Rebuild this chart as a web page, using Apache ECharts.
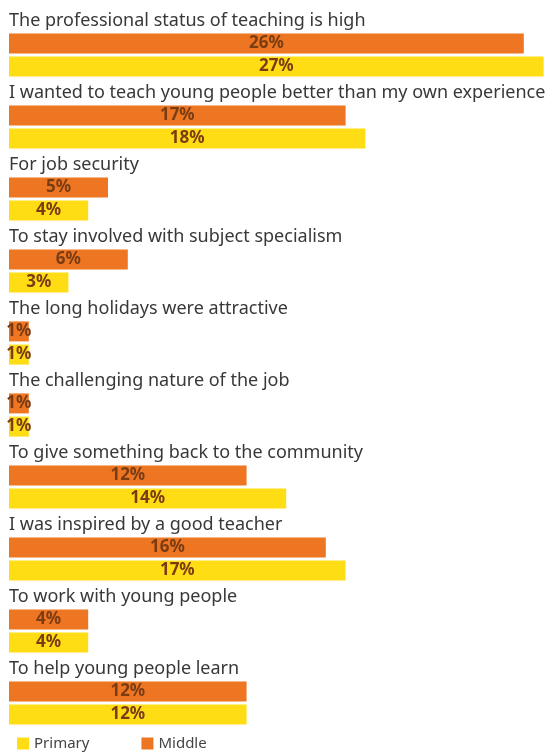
<!DOCTYPE html>
<html>
<head>
<meta charset="utf-8">
<script src="https://cdn.jsdelivr.net/npm/echarts@6/dist/echarts.min.js"></script>
<style>
	html, body { margin: 0; padding: 0; background: #fff; }
	#chart-box { width: 546px; height: 755px; }
</style>
</head>
<body>
<div id="chart-box"></div>
<script>
var categories = [
	"The professional status of teaching is high",
	"I wanted to teach young people better than my own experience",
	"For job security",
	"To stay involved with subject specialism",
	"The long holidays were attractive",
	"The challenging nature of the job",
	"To give something back to the community",
	"I was inspired by a good teacher",
	"To work with young people",
	"To help young people learn"
];
var middleValues = [26, 17, 5, 6, 1, 1, 12, 16, 4, 12];
var primaryValues = [27, 18, 4, 3, 1, 1, 14, 17, 4, 12];

var chart = echarts.init(document.getElementById("chart-box"));

var valueLabel = {
	show: true,
	position: "inside",
	color: "#7a3c12",
	fontFamily: "Noto Sans",
	fontWeight: "bold",
	fontSize: 17,
	formatter: function (p) {
		return p.value + "%";
	}
};

var option = {
	animation: false,
	legend: {
		data: ["Primary", "Middle"],
		bottom: -1,
		left: 12,
		itemWidth: 12,
		itemHeight: 12,
		itemGap: 52,
		icon: "rect",
		textStyle: {
			color: "#444",
			fontFamily: "Noto Sans",
			fontSize: 15
		}
	},
	grid: {
		top: 19,
		left: 9,
		right: 0,
		height: 720
	},
	xAxis: {
		type: "value",
		min: 0,
		max: 27,
		show: false
	},
	yAxis: {
		type: "category",
		inverse: true,
		data: categories,
		axisLine: { show: false },
		axisTick: { show: false },
		splitLine: { show: false },
		axisLabel: {
			inside: true,
			margin: 0,
			align: "left",
			verticalAlign: "bottom",
			padding: [0, 0, 25, 0],
			color: "#383838",
			fontFamily: "Noto Sans",
			fontSize: 18
		},
		z: 10
	},
	series: [
		{
			name: "Middle",
			type: "bar",
			barWidth: 20,
			barGap: "16%",
			itemStyle: { color: "#ee7623" },
			label: valueLabel,
			data: middleValues
		},
		{
			name: "Primary",
			type: "bar",
			barWidth: 20,
			barGap: "16%",
			itemStyle: { color: "#ffdd15" },
			label: valueLabel,
			data: primaryValues
		}
	]
};

chart.setOption(option);
</script>
</body>
</html>
